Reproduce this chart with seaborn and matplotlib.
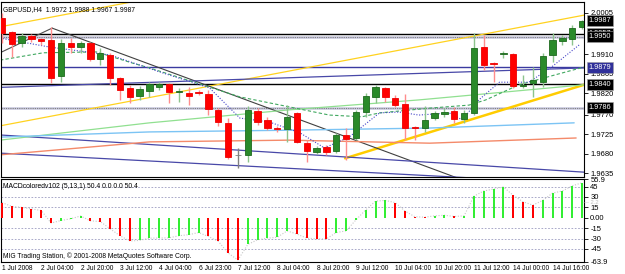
import matplotlib
matplotlib.use("Agg")
import matplotlib.pyplot as plt
import matplotlib.transforms as mtransforms
import numpy as np
import seaborn as sns

# GBPUSD H4 candles (bar 0 = first visible bar)
opens = [1.9993, 1.9961, 1.9936, 1.9952, 1.9945, 1.9943, 1.9859, 1.9936, 1.9926, 1.9936,
         1.9899, 1.9908, 1.9855, 1.9832, 1.9813, 1.9825, 1.9834, 1.9841, 1.9822, 1.9820,
         1.9822, 1.9818, 1.9781, 1.9751, 1.9677, 1.9677, 1.9778, 1.9758, 1.9739, 1.9737,
         1.9774, 1.9704, 1.9684, 1.9695, 1.9686, 1.9723, 1.9716, 1.9776, 1.9811, 1.9832,
         1.9809, 1.9795, 1.9741, 1.9739, 1.9762, 1.9772, 1.9778, 1.9760, 1.9774, 1.9926,
         1.9889, 1.9910, 1.9910, 1.9836, 1.9843, 1.9845, 1.9908, 1.9940, 1.9945, 1.9972]
highs = [2.0005, 1.9963, 1.9959, 1.9956, 1.9947, 1.9973, 1.9945, 1.9947, 1.9940, 1.9938,
         1.9924, 1.9913, 1.9857, 1.9839, 1.9836, 1.9845, 1.9845, 1.9843, 1.9832, 1.9834,
         1.9827, 1.9827, 1.9785, 1.9762, 1.9693, 1.9790, 1.9785, 1.9765, 1.9744, 1.9792,
         1.9776, 1.9711, 1.9698, 1.9700, 1.9727, 1.9739, 1.9781, 1.9820, 1.9839, 1.9834,
         1.9815, 1.9818, 1.9744, 1.9790, 1.9779, 1.9785, 1.9788, 1.9781, 1.9959, 1.9954,
         1.9892, 1.9917, 1.9913, 1.9862, 1.9880, 1.9913, 1.9959, 1.9954, 1.9977, 1.9988]
lows = [1.9936, 1.9903, 1.9926, 1.9938, 1.9931, 1.9843, 1.9845, 1.9912, 1.9913, 1.9894,
        1.9885, 1.9839, 1.9804, 1.9797, 1.9804, 1.9811, 1.9827, 1.9797, 1.9799, 1.9792,
        1.9815, 1.9769, 1.9744, 1.9667, 1.9647, 1.9660, 1.9746, 1.9734, 1.9730, 1.9707,
        1.9704, 1.9660, 1.9679, 1.9677, 1.9681, 1.9665, 1.9711, 1.9765, 1.9797, 1.9799,
        1.9788, 1.9711, 1.9711, 1.9730, 1.9758, 1.9765, 1.9751, 1.9751, 1.9769, 1.9873,
        1.9845, 1.9901, 1.9832, 1.9832, 1.9811, 1.9834, 1.9892, 1.9931, 1.9931, 1.9967]
closes = [1.9959, 1.9933, 1.9952, 1.9945, 1.9940, 1.9855, 1.9936, 1.9926, 1.9936, 1.9899,
          1.9913, 1.9855, 1.9827, 1.9811, 1.9829, 1.9841, 1.9841, 1.9822, 1.9825, 1.9813,
          1.9820, 1.9783, 1.9753, 1.9672, 1.9677, 1.9781, 1.9753, 1.9739, 1.9737, 1.9765,
          1.9707, 1.9686, 1.9693, 1.9684, 1.9723, 1.9714, 1.9776, 1.9813, 1.9834, 1.9811,
          1.9792, 1.9739, 1.9739, 1.9758, 1.9774, 1.9776, 1.9760, 1.9774, 1.9924, 1.9885,
          1.9887, 1.9913, 1.9836, 1.9838, 1.9850, 1.9906, 1.9943, 1.9947, 1.9970, 1.9987]

# MACDcolored histogram (5,13,1)
macd_hist = [21.8, 16.4, 15.0, 12.7, 10.5, -7.7, -4.0, -1.5, 2.5, -4.5,
             -5.5, -16.0, -26.0, -33.6, -32.7, -29.5, -29.3, -29.0, -26.0, -24.5,
             -21.4, -27.0, -34.0, -51.0, -61.0, -38.6, -31.8, -29.5, -28.2, -19.0,
             -23.6, -29.5, -30.5, -30.5, -21.4, -19.0, -3.2, 11.4, 24.0, 25.0,
             21.8, 9.5, 1.4, 0.8, 2.7, 3.6, 1.8, 2.7, 31.0, 38.6,
             41.4, 44.5, 32.3, 23.0, 18.2, 25.0, 35.5, 38.6, 46.0, 50.4]

time_label_bars = [0, 4, 8, 12, 16, 20, 24, 28, 32, 36, 40, 44, 48, 52, 56]
time_labels = ['1 Jul 2008', '2 Jul 04:00', '2 Jul 20:00', '3 Jul 12:00', '4 Jul 04:00',
               '6 Jul 23:00', '7 Jul 12:00', '8 Jul 04:00', '8 Jul 20:00', '9 Jul 12:00',
               '10 Jul 04:00', '10 Jul 20:00', '11 Jul 12:00', '14 Jul 00:00', '14 Jul 16:00']

price_ticks = [2.0005, 1.9910, 1.9865, 1.9820, 1.9770, 1.9725, 1.9680, 1.9635]
macd_ticks = [55.9, 45, 30, 15, 0, -15, -30, -45, -63.9]
macd_tick_labels = ['55.9', '45', '30', '15', '0.00', '-15', '-30', '-45', '-63.9']
macd_grid = [45, 30, 15, -15, -30, -45]

# horizontal levels drawn on the chart
level_black = [1.9957, 1.9840]
level_grey = [1.9950, 1.9786]
level_navy = [1.9879]
price_boxes = [1.9987, 1.9957, 1.9950, 1.9879, 1.9840, 1.9786]

# moving averages (bar position, price)
ma_fast_bars = [-0.2, 4.9, 11.0, 16.0, 21.1, 24.2, 27.2, 30.3, 32.8, 35.3, 38.4, 40.4,
                42.4, 45.5, 46.8, 48.5, 50.6, 53.6, 55.9, 58.7]
ma_fast_vals = [1.9947, 1.9926, 1.9908, 1.9869, 1.9832, 1.9762, 1.9753, 1.9728, 1.9693,
                1.9718, 1.9774, 1.9776, 1.9769, 1.9774, 1.9758, 1.9804, 1.9845, 1.9845,
                1.9880, 1.9931]
ma_mid_bars = [-0.2, 4.2, 9.6, 13.3, 15.0, 24.2, 29.2, 33.3, 36.6, 38.4, 43.5, 47.5,
               49.2, 52.6, 56.6, 59.2]
ma_mid_vals = [1.9896, 1.9913, 1.9915, 1.9889, 1.9878, 1.9811, 1.9788, 1.9769, 1.9765,
               1.9774, 1.9785, 1.9792, 1.9804, 1.9839, 1.9864, 1.9880]
ma_slow_bars = [-0.2, 15.0, 29.2, 42.4, 59.2]
ma_slow_vals = [1.9711, 1.9751, 1.9781, 1.9804, 1.9839]
ma_sky_bars = [-0.2, 15.0, 29.2, 43.5, 58.2]
ma_sky_vals = [1.9718, 1.9730, 1.9734, 1.9739, 1.9751]
ma_salmon_bars = [-0.2, 15.0, 29.2, 43.5, 58.4]
ma_salmon_vals = [1.9677, 1.9707, 1.9711, 1.9704, 1.9716]

# trend lines: (bar, price) -> (bar, price)
trend_black_up = [(-0.2, 1.9913), (5.1, 1.9970)]
trend_black_down = [(5.1, 1.9970), (46.5, 1.9622)]
chan_top = [(-0.2, 1.9973), (14.0, 2.0034)]
chan_bottom = [(-0.2, 1.9744), (59.2, 2.0000)]
trend_gold = [(34.9, 1.9669), (59.2, 1.9839)]
navy_a = [(-0.2, 1.9723), (59.2, 1.9637)]
navy_b = [(-0.2, 1.9681), (59.2, 1.9610)]
navy_c = [(-0.2, 1.9833), (59.2, 1.9878)]


sns.set_style("white")
plt.rcParams['font.family'] = ['Liberation Sans', 'DejaVu Sans']

W, H = 625, 274
fig = plt.figure(figsize=(W / 100, H / 100), dpi=100)
ax = fig.add_axes([1 / W, (H - 177) / H, 583 / W, 175 / H])
ax2 = fig.add_axes([1 / W, (H - 262) / H, 583 / W, 83 / H])

bars = np.arange(len(opens))
o, h, l, c = map(np.array, (opens, highs, lows, closes))


def seg(a, pts, color, lw, ls='-', z=2):
	sns.lineplot(x=[p[0] for p in pts], y=[p[1] for p in pts], ax=a, color=color,
				 lw=lw, linestyle=ls, sort=False, estimator=None, zorder=z)


# levels
for p in level_grey:
	ax.axhline(p, color='#c8c8e0', lw=1.8, zorder=1)
	ax.axhline(p, color='#808080', lw=0.8, linestyle=(0, (1, 1)), zorder=1.1)
for p in level_black:
	ax.axhline(p, color='black', lw=1.0, zorder=1.2)
for p in level_navy:
	ax.axhline(p, color='#3a3aa0', lw=1.0, zorder=1.2)

# channels / trend lines
seg(ax, chan_top, '#ffd21f', 0.9)
seg(ax, chan_bottom, '#ffd21f', 0.9)
seg(ax, trend_gold, '#ffcc00', 1.8)
seg(ax, trend_black_up, '#505050', 0.8)
seg(ax, trend_black_down, '#404040', 0.8)
seg(ax, navy_a, '#4848a8', 0.9)
seg(ax, navy_b, '#4848a8', 0.9)
seg(ax, navy_c, '#4848a8', 0.9)

# moving averages
seg(ax, list(zip(ma_slow_bars, ma_slow_vals)), '#90e090', 0.9)
seg(ax, list(zip(ma_sky_bars, ma_sky_vals)), '#7cc4f4', 1.0)
seg(ax, list(zip(ma_salmon_bars, ma_salmon_vals)), '#f48a6a', 1.0)
seg(ax, list(zip(ma_mid_bars, ma_mid_vals)), '#40a860', 0.8, (0, (3, 2)))
seg(ax, list(zip(ma_fast_bars, ma_fast_vals)), '#4646c8', 0.8, (0, (1, 1.5)))

# candles
up = c > o
flat = c == o
body_col = np.where(flat, '#808080', np.where(up, '#2a8a2a', '#ff0000'))
edge_col = np.where(flat, '#808080', np.where(up, '#1e6a1e', '#ee0000'))
wick_col = np.where(flat, '#808080', np.where(up, '#8cc48c', '#ff8c8c'))
ax.vlines(bars, l, h, colors=wick_col, lw=1.0, zorder=3)
ax.bar(bars, np.abs(c - o), bottom=np.minimum(o, c), width=0.64,
	   color=body_col, edgecolor=edge_col, lw=0.6, zorder=4)

ax.set_xlim(-0.1, 59.2)
ax.set_ylim(1.96258, 2.00304)
ax.set_xticks([])
ax.set_yticks(price_ticks)
ax.set_yticklabels([f'{p:.4f}' for p in price_ticks])
ax.yaxis.tick_right()
ax.tick_params(axis='y', length=3, width=0.6, pad=1.5, labelsize=5.5, colors='black')

# price boxes on the right scale
tr = mtransforms.blended_transform_factory(ax.transAxes, ax.transData)
for p in price_boxes:
	fc = '#30309a' if p in level_navy else 'black'
	ax.text(1.008, p, f'{p:.4f}', transform=tr, ha='left', va='center', fontsize=5.3,
			color='white', clip_on=False, zorder=10,
			bbox=dict(boxstyle='square,pad=0.25', fc=fc, ec='#a0a0a0', lw=0.4))

ax.text(0.004, 0.975, 'GBPUSD,H4  1.9972 1.9988 1.9967 1.9987', transform=ax.transAxes,
		ha='left', va='top', fontsize=4.9, color='black', zorder=11)

# MACD panel
m = np.array(macd_hist)
rising = np.r_[False, m[1:] > m[:-1]]
ax2.vlines(bars, 0, m, colors=np.where(rising, '#33ee33', '#ff0000'), lw=1.1,
		   antialiased=False, zorder=3)
for g in macd_grid:
	ax2.axhline(g, color='#9a9ac0', lw=0.6, linestyle=(0, (2, 2)), zorder=1)
sns.lineplot(x=bars, y=m, ax=ax2, color='#c8c8c8', lw=0.8, linestyle=(0, (1, 1.5)),
			 sort=False, estimator=None, zorder=2)

ax2.set_xlim(-0.1, 59.2)
ax2.set_ylim(-63.9, 55.9)
ax2.set_yticks(macd_ticks)
ax2.set_yticklabels(macd_tick_labels)
ax2.yaxis.tick_right()
ax2.tick_params(axis='y', length=3, width=0.6, pad=1.5, labelsize=5.5, colors='black')
ax2.set_xticks(time_label_bars)
ax2.set_xticklabels(time_labels, ha='left')
ax2.tick_params(axis='x', length=2, width=0.6, pad=0.5, labelsize=4.8, colors='black')
ax2.set_xlabel('')
ax2.set_ylabel('')
ax.set_xlabel('')
ax.set_ylabel('')

ax2.text(0.004, 0.95, 'MACDcoloredv102 (5,13,1) 50.4 0.0 0.0 50.4', transform=ax2.transAxes,
		 ha='left', va='top', fontsize=4.9, color='black')
ax2.text(0.004, 0.03, 'MIG Trading Station, \u00a9 2001-2008 MetaQuotes Software Corp.',
		 transform=ax2.transAxes, ha='left', va='bottom', fontsize=4.9, color='black')
tr2 = mtransforms.blended_transform_factory(ax2.transAxes, ax2.transData)
ax2.text(0.998, 22, '\u2014 2.2', transform=tr2, ha='left', va='center', fontsize=4.2,
		 color='#c0c0c0', clip_on=False)

for a in (ax, ax2):
	for s in a.spines.values():
		s.set_color('black')
		s.set_linewidth(0.8)
		s.set_visible(True)

fig.savefig('out.png', dpi=100, facecolor='white')
